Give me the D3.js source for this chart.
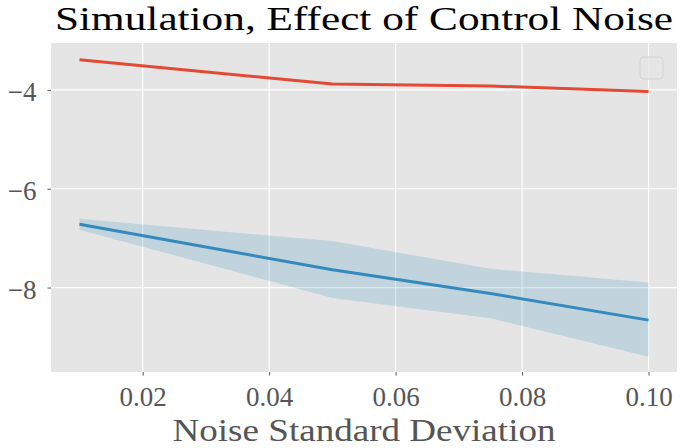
<!DOCTYPE html>
<html>
<head>
<meta charset="utf-8">
<script src="https://cdn.jsdelivr.net/npm/d3@7"></script>
<style>
  body { margin: 0; background: #fff; }
  text { font-family: "Liberation Serif", "DejaVu Serif", serif; }
</style>
</head>
<body>
<div id="chart"></div>
<script>
// ---- data ----
var noiseStd = [0.01, 0.05, 0.075, 0.10];
var redMean = [-3.39, -3.88, -3.92, -4.03];
var blueMean = [-6.72, -7.64, -8.12, -8.66];
var blueUpper = [-6.61, -7.06, -7.62, -7.90];
var blueLower = [-6.83, -8.21, -8.62, -9.40];
var xTicks = [0.02, 0.04, 0.06, 0.08, 0.10];
var yTicks = [-4, -6, -8];

var width = 680,
    height = 448;
var margin = {left: 51, right: 3, top: 43, bottom: 76};

var svg = d3.select("#chart").append("svg")
    .attr("width", width)
    .attr("height", height);

// matplotlib style 5% margins
var x = d3.scaleLinear().domain([0.0055, 0.1045]).range([margin.left, width - margin.right]);
var y = d3.scaleLinear().domain([-9.71, -3.05]).range([height - margin.bottom, margin.top]);

// ******* background + grid ********* //
svg.append("rect")
    .attr("x", margin.left).attr("y", margin.top)
    .attr("width", width - margin.left - margin.right)
    .attr("height", height - margin.top - margin.bottom)
    .attr("fill", "#e5e5e5");

var grid = svg.append("g").attr("class", "grid");
grid.selectAll("line.gx").data(xTicks).enter().append("line")
    .attr("x1", function(d){ return x(d); }).attr("x2", function(d){ return x(d); })
    .attr("y1", margin.top).attr("y2", height - margin.bottom)
    .attr("stroke", "#fff").attr("stroke-width", 1.2);
grid.selectAll("line.gy").data(yTicks).enter().append("line")
    .attr("y1", function(d){ return y(d); }).attr("y2", function(d){ return y(d); })
    .attr("x1", margin.left).attr("x2", width - margin.right)
    .attr("stroke", "#fff").attr("stroke-width", 1.2);

// ******* axes ********* //
var fmtX = d3.format(".2f");
var xAxis = d3.axisBottom(x).tickValues(xTicks).tickSize(3.5).tickPadding(6).tickFormat(fmtX);
var yAxis = d3.axisLeft(y).tickValues(yTicks).tickSize(3.5).tickPadding(11)
    .tickFormat(function(d){ return "\u2212" + Math.abs(d); });

var gx = svg.append("g").attr("transform", "translate(0," + (height - margin.bottom) + ")").call(xAxis);
var gy = svg.append("g").attr("transform", "translate(" + margin.left + ",0)").call(yAxis);
[gx, gy].forEach(function(g){
    g.select(".domain").remove();
    g.selectAll(".tick line").attr("stroke", "#555").attr("stroke-width", 1);
    g.selectAll(".tick text")
        .attr("fill", "#555")
        .style("font-family", "'Liberation Serif', serif")
        .style("font-size", "27px");
});
gx.selectAll(".tick text").attr("dy", "0.9em");
gy.selectAll(".tick text").attr("dy", "0.4em");

// ******* band + lines ********* //
var area = d3.area()
    .x(function(d, i){ return x(noiseStd[i]); })
    .y0(function(d, i){ return y(blueLower[i]); })
    .y1(function(d, i){ return y(blueUpper[i]); });
svg.append("path")
    .datum(noiseStd)
    .attr("d", area)
    .attr("fill", "#348ABD")
    .attr("fill-opacity", 0.2);

var line = d3.line()
    .x(function(d, i){ return x(noiseStd[i]); })
    .y(function(d){ return y(d); });

svg.append("path").datum(redMean)
    .attr("d", line).attr("fill", "none")
    .attr("stroke", "#E24A33").attr("stroke-width", 3);
svg.append("path").datum(blueMean)
    .attr("d", line).attr("fill", "none")
    .attr("stroke", "#348ABD").attr("stroke-width", 3);

// ******* empty legend ********* //
svg.append("rect")
    .attr("x", 640).attr("y", 57)
    .attr("width", 23).attr("height", 22)
    .attr("rx", 4)
    .attr("fill", "#e5e5e5")
    .attr("fill-opacity", 0.8)
    .attr("stroke", "#d2d2d2")
    .attr("stroke-width", 1);

// ******* title + label ********* //
svg.append("text")
    .attr("x", 364).attr("y", 30)
    .attr("text-anchor", "middle")
    .attr("fill", "#000")
    .attr("textLength", 618)
    .attr("lengthAdjust", "spacingAndGlyphs")
    .style("font-size", "34px")
    .text("Simulation, Effect of Control Noise");

svg.append("text")
    .attr("x", 364).attr("y", 441)
    .attr("text-anchor", "middle")
    .attr("fill", "#555")
    .attr("textLength", 383)
    .attr("lengthAdjust", "spacingAndGlyphs")
    .style("font-size", "32px")
    .text("Noise Standard Deviation");
</script>
</body>
</html>
